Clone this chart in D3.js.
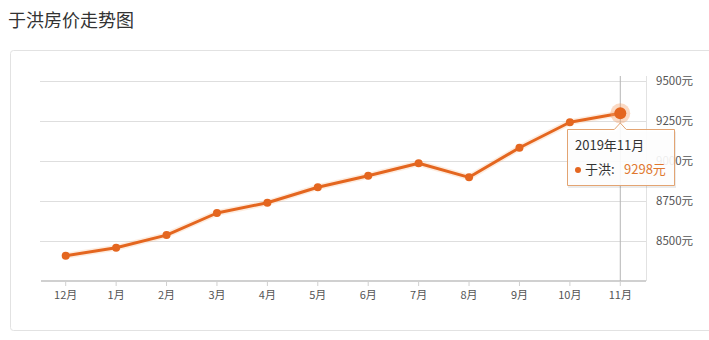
<!DOCTYPE html>
<html>
<head>
<meta charset="utf-8">
<script src="https://cdn.jsdelivr.net/npm/d3@7"></script>
<style>
  body { margin: 0; background: #fff; font-family: "Noto Sans CJK SC", "Noto Sans", sans-serif; }
  svg { display: block; }
</style>
</head>
<body>
<svg id="chart" width="709" height="340"></svg>
<script>
// data ------------------------------------------------------------------
const months = ["12月", "1月", "2月", "3月", "4月", "5月", "6月", "7月", "8月", "9月", "10月", "11月"]
const prices = [8408, 8458, 8537, 8675, 8739, 8836, 8908, 8986, 8898, 9083, 9242, 9298]
const yTicks = [8500, 8750, 9000, 9250, 9500]
const title = "于洪房价走势图"
const seriesName = "于洪"
const hoverLabel = "2019年11月"
const hoverIndex = 11

const lineColor = "#e4661f"

const svg = d3.select("#chart")

// title + card
svg.append("text")
    .attr("x", 8).attr("y", 27)
    .attr("font-size", 18).attr("fill", "#333")
    .text(title)

svg.append("rect")
    .attr("x", 10.5).attr("y", 50.5)
    .attr("width", 720).attr("height", 280)
    .attr("rx", 3)
    .attr("fill", "#fff")
    .attr("stroke", "#e2e2e2")

// scales ----------------------------------------------------------------
const x = d3.scaleBand()
    .domain(months)
    .range([40.5, 645.5])

const y = d3.scaleLinear()
    .domain([8250, 9500])
    .range([281, 81])

const cx = d => x(d) + x.bandwidth() / 2

const g = svg.append("g")

// gridlines
g.selectAll(".grid")
    .data(yTicks)
    .join("line")
    .attr("x1", 40).attr("x2", 646)
    .attr("y1", d => Math.round(y(d)) + 0.5)
    .attr("y2", d => Math.round(y(d)) + 0.5)
    .attr("stroke", "#dedede")

// right border of the plot
g.append("line")
    .attr("x1", 646.5).attr("x2", 646.5)
    .attr("y1", 76).attr("y2", 281)
    .attr("stroke", "#e2e2e2")

// y labels on the right
g.selectAll(".ylab")
    .data(yTicks)
    .join("text")
    .attr("x", 656)
    .attr("y", d => y(d) + 4)
    .attr("font-size", 11.5)
    .attr("fill", "#555")
    .text(d => d + "元")

// x axis
const xAxis = g.append("g")
    .attr("transform", "translate(0,281)")
    .call(d3.axisBottom(x).tickSize(4).tickPadding(6))
xAxis.select(".domain").attr("stroke", "#d0d0d0").attr("stroke-width", 2)
    .attr("d", "M41,0H646")
xAxis.selectAll(".tick line").attr("stroke", "#d0d0d0").attr("transform", "translate(0,1)")
xAxis.selectAll(".tick text")
    .attr("font-size", 11)
    .attr("fill", "#555")
    .attr("font-family", "'Noto Sans CJK SC', sans-serif")

// cursor line
g.append("line")
    .attr("x1", cx(months[hoverIndex])).attr("x2", cx(months[hoverIndex]))
    .attr("y1", 76).attr("y2", 281)
    .attr("stroke", "#b5b5b5")

// line + points ---------------------------------------------------------
const pts = months.map((m, i) => ({ m, v: prices[i] }))

const line = d3.line()
    .x(d => cx(d.m))
    .y(d => y(d.v))

g.append("path")
    .datum(pts)
    .attr("d", line)
    .attr("fill", "none")
    .attr("stroke", "#f7b27f")
    .attr("stroke-opacity", 0.25)
    .attr("stroke-width", 6)
    .attr("stroke-linejoin", "round")

g.append("path")
    .datum(pts)
    .attr("d", line)
    .attr("fill", "none")
    .attr("stroke", lineColor)
    .attr("stroke-width", 3)
    .attr("stroke-linejoin", "round")

g.selectAll(".pt")
    .data(pts)
    .join("circle")
    .attr("cx", d => cx(d.m))
    .attr("cy", d => y(d.v))
    .attr("r", 4)
    .attr("fill", lineColor)

// highlighted point
const hp = pts[hoverIndex]
g.append("circle")
    .attr("cx", cx(hp.m)).attr("cy", y(hp.v))
    .attr("r", 10)
    .attr("fill", "#f5a36b").attr("fill-opacity", 0.4)
g.append("circle")
    .attr("cx", cx(hp.m)).attr("cy", y(hp.v))
    .attr("r", 6)
    .attr("fill", lineColor)

// tooltip ---------------------------------------------------------------
const tx = 567, ty = 129, tw = 108, th = 57
const ax = cx(hp.m)
const tip = svg.append("g")

tip.append("path")
    .attr("d", `M${tx},${ty + 0.5}H${ax - 6}L${ax},${ty - 6}L${ax + 6},${ty + 0.5}H${tx + tw}V${ty + th}H${tx}Z`)
    .attr("fill", "#000").attr("fill-opacity", 0.08)
    .attr("transform", "translate(1,2)")
tip.append("path")
    .attr("d", `M${tx + 0.5},${ty + 0.5}H${ax - 6}L${ax},${ty - 6}L${ax + 6},${ty + 0.5}H${tx + tw - 0.5}V${ty + th - 0.5}H${tx + 0.5}Z`)
    .attr("fill", "#fff").attr("fill-opacity", 0.9)
    .attr("stroke", "#e3a472")

tip.append("text")
    .attr("x", tx + 8).attr("y", ty + 21)
    .attr("font-size", 13).attr("fill", "#333")
    .text(hoverLabel)

tip.append("circle")
    .attr("cx", tx + 11).attr("cy", ty + 41)
    .attr("r", 3)
    .attr("fill", lineColor)

tip.append("text")
    .attr("x", tx + 18).attr("y", ty + 45)
    .attr("font-size", 13).attr("fill", "#333")
    .text(seriesName + ":")

tip.append("text")
    .attr("x", tx + 57).attr("y", ty + 45)
    .attr("font-size", 13).attr("fill", "#e0782f")
    .text(hp.v + "元")
</script>
</body>
</html>
